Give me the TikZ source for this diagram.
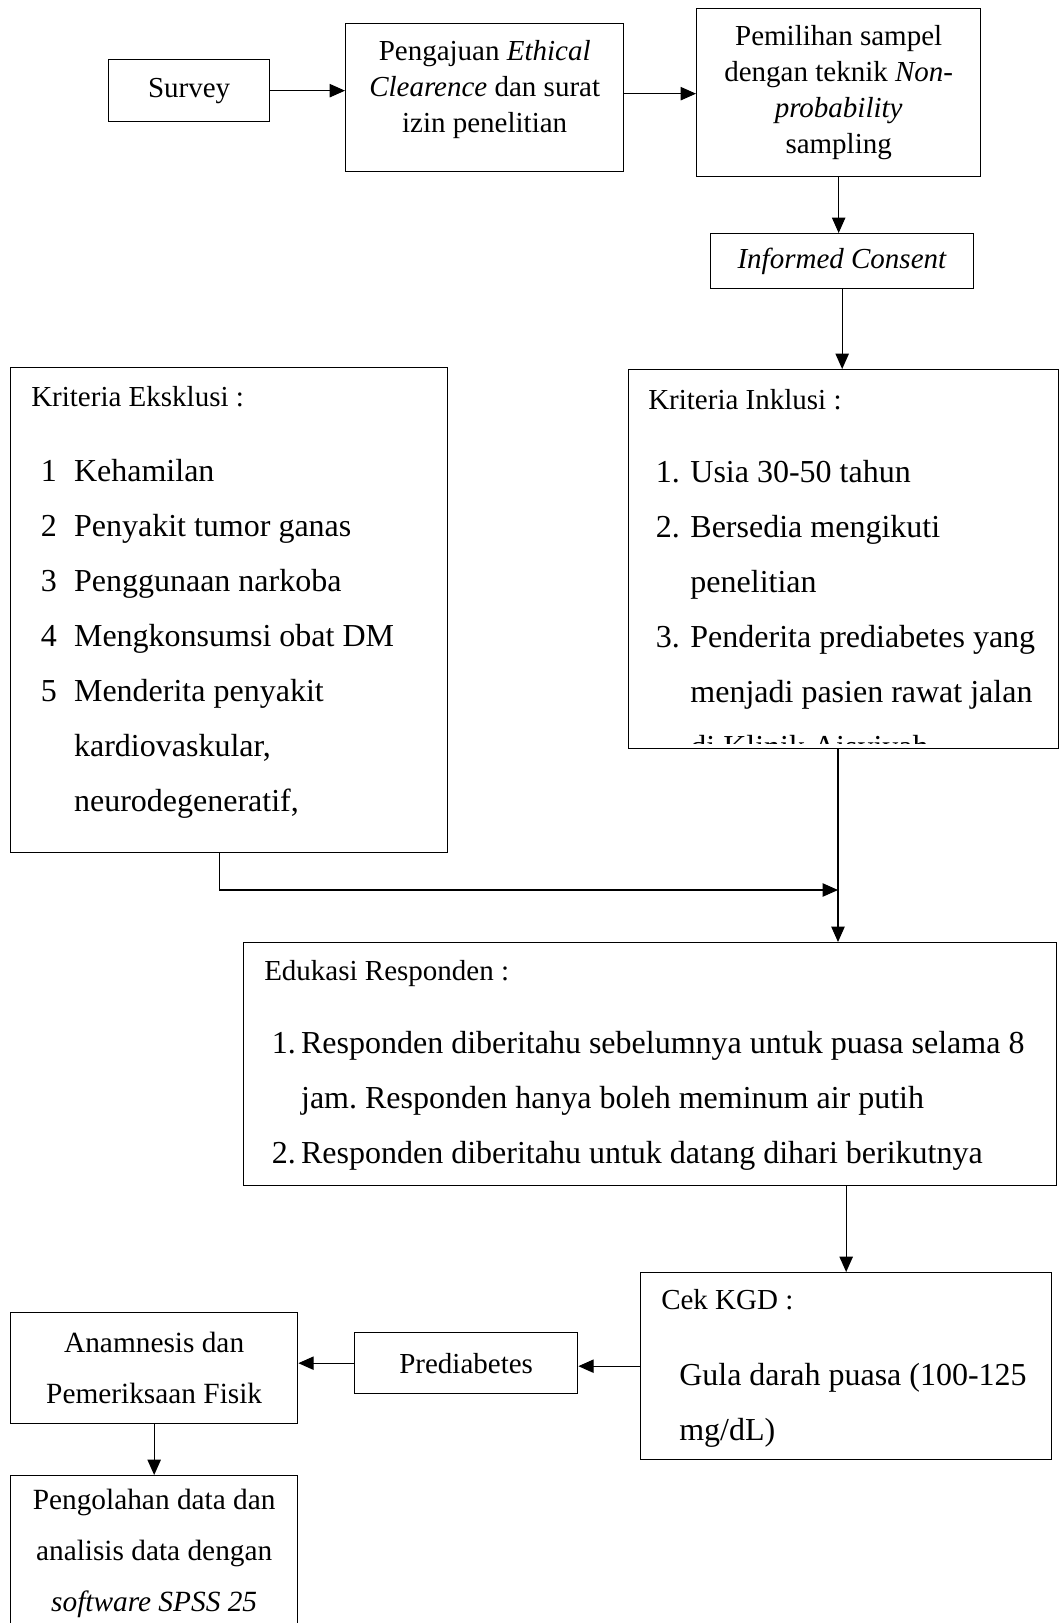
\documentclass[tikz,border=0pt]{standalone}
\usepackage{fontspec}
\setmainfont{Liberation Serif}
\usetikzlibrary{calc, positioning, arrows.meta}
\newcommand\boxfont{\fontsize{21.75}{27}\selectfont}
\newcommand\listfont{\fontsize{24}{41.25}\selectfont}
\newcommand\tallfont{\fontsize{22}{38.25}\selectfont}
\frenchspacing

\begin{document}
\begin{tikzpicture}[
    x=0.75pt, y=-0.75pt,
    >={Triangle[length=11.5pt, width=10pt]},
    box/.style={draw, rectangle, line width=1pt, anchor=north west, inner sep=0pt, align=center, font=\boxfont},
    head/.style={inner sep=0pt, anchor=base west, font=\boxfont},
    items/.style={inner sep=0pt, anchor=base west, font=\listfont},
    flow/.style={->, line width=0.9pt},
  ]
  \useasboundingbox (0,0) rectangle (1060,1623);
  % top row
  \node[box, minimum width=120.75pt, minimum height=46.5pt] (surveyB) at (108,59) {Survey};
  \node[box, minimum width=208.5pt, minimum height=111pt] (ethicB) at (345,23) {};
  \node[inner sep=0pt, align=center, font=\boxfont] (ethicT) at ($(ethicB.center)+(0,-8)$)
    {Pengajuan \textit{Ethical}\\\textit{Clearence} dan surat\\izin penelitian};
  \node[box, minimum width=213pt, minimum height=126pt] (sampleB) at (696,8)
    {Pemilihan sampel\\dengan teknik \textit{Non-}\\\textit{probability}\\sampling};
  \node[box, minimum width=197.25pt, minimum height=41.25pt] (consentB) at (710,233) {\textit{Informed Consent}};
  % criteria
  \node[box, minimum width=327.75pt, minimum height=363.75pt] (exclB) at (10,367) {};
  \node[head] (exclT) at (31,406) {Kriteria Eksklusi :};
  \node[items] (exclL) at (40.5,481) {\begin{tabular}[t]{@{}r@{\hspace{13pt}}l@{}}
      1 & Kehamilan\\
      2 & Penyakit tumor ganas\\
      3 & Penggunaan narkoba\\
      4 & Mengkonsumsi obat DM\\
      5 & Menderita penyakit\\
        & kardiovaskular,\\
        & neurodegeneratif,
    \end{tabular}};
  \node[box, minimum width=322.5pt, minimum height=284.25pt] (inclB) at (628,369) {};
  \node[head] (inclT) at (648,409) {Kriteria Inklusi :};
  \begin{scope}
    \clip (inclB.north west) rectangle ([yshift=4.5pt]inclB.south east);
    \node[items] (inclL) at (655.5,482) {\begin{tabular}[t]{@{}r@{\hspace{8pt}}l@{}}
        1. & Usia 30-50 tahun\\
        2. & Bersedia mengikuti\\
           & penelitian\\
        3. & Penderita prediabetes yang\\
           & menjadi pasien rawat jalan\\
           & di Klinik Aisyiyah
      \end{tabular}};
  \end{scope}
  % education
  \node[box, minimum width=609.75pt, minimum height=182.25pt] (eduB) at (243,942) {};
  \node[head] (eduT) at (264,980) {Edukasi Responden :};
  \node[items] (eduL) at (271.5,1053.5) {\begin{tabular}[t]{@{}r@{\hspace{4pt}}l@{}}
      1. & Responden diberitahu sebelumnya untuk puasa selama 8\\
         & jam. Responden hanya boleh meminum air putih\\
      2. & Responden diberitahu untuk datang dihari berikutnya
    \end{tabular}};
  % bottom row
  \node[box, minimum width=308.25pt, minimum height=140.25pt] (kgdB) at (640,1272) {};
  \node[head] (kgdT) at (661,1309) {Cek KGD :};
  \node[items] (kgdL) at (679,1385) {\begin{tabular}[t]{@{}l@{}}
      Gula darah puasa (100-125\\
      mg/dL)
    \end{tabular}};
  \node[box, minimum width=167.25pt, minimum height=45.75pt] (prediabB) at (354,1332) {Prediabetes};
  \node[box, minimum width=215.25pt, minimum height=83.25pt, font=\tallfont] (anamB) at (10,1312)
    {Anamnesis dan\\Pemeriksaan Fisik};
  \node[box, minimum width=215.25pt, minimum height=117pt, font=\tallfont] (dataB) at (10,1475)
    {Pengolahan data dan\\analisis data dengan\\\textit{software SPSS 25}};
  % lines
  \coordinate (mergeC) at (838,890);
  \draw[flow] (surveyB.east) -- (surveyB.east -| ethicB.west);
  \draw[flow] ([yshift=3pt]ethicB.east) -- ([yshift=3pt]ethicB.east -| sampleB.west);
  \draw[flow] (sampleB.south) -- (sampleB.south |- consentB.north);
  \draw[flow] (consentB.south) -- (consentB.south |- inclB.north);
  \draw[flow] ([xshift=-7pt]exclB.south) |- (mergeC);
  \draw[flow] (inclB.south -| mergeC) -- (mergeC |- eduB.north);
  \draw[flow] (eduB.south -| kgdB.north) -- (kgdB.north);
  \draw[flow] (kgdB.west) -- (kgdB.west -| prediabB.east);
  \draw[flow] (prediabB.west) -- (prediabB.west -| anamB.east);
  \draw[flow] (anamB.south) -- (anamB.south |- dataB.north);
\end{tikzpicture}
\end{document}
